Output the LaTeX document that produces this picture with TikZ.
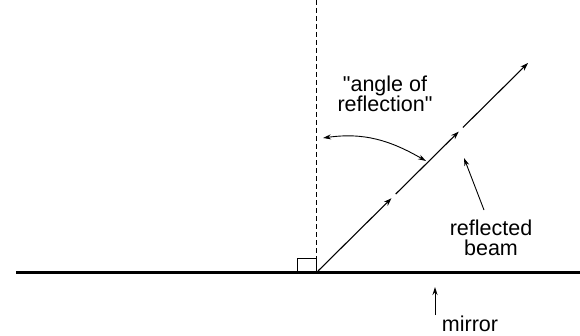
\documentclass[tikz,border=0pt]{standalone}
\usepackage{fontspec}
\setmainfont{Liberation Sans}
\usetikzlibrary{arrows.meta,calc}
\begin{document}
\begin{tikzpicture}[x=1pt,y=1pt,
    beam/.style={line width=1.1pt,-{Stealth[length=8pt,width=5.5pt]}},
    pointer/.style={line width=0.9pt,-{Stealth[length=8pt,width=5pt]}},
    lbl/.style={align=center,inner sep=1pt,font=\fontsize{21.5}{20.5}\selectfont}]
                        \useasboundingbox (0,0) rectangle (580,335);
                        % Mirror and normal
                        \coordinate (ml) at (16,63);
                        \coordinate (mr) at (580,63);
                        \coordinate (ntop) at (316,335);
                        \coordinate (nfoot) at (316,64);
                        \draw[line width=3pt] (ml) -- (mr);
                        \draw[line width=0.9pt, dash pattern=on 5pt off 3pt] (ntop) -- (nfoot);
                        \draw[line width=0.9pt] (nfoot) rectangle (297,77);
                        % Reflected beam
                        \coordinate (r) at (318,64);
                        \coordinate (t) at (528,272);
                        \draw[beam] (r) -- ($(r)!0.35!(t)$);
                        \draw[beam] ($(r)!0.37!(t)$) -- ($(r)!0.67!(t)$);
                        \draw[beam] ($(r)!0.69!(t)$) -- (t);
                        % Angle of reflection
                        \coordinate (aleft) at (323,197);
                        \coordinate (aright) at (426,174);
                        \draw[line width=0.9pt,{Stealth[length=8pt,width=5pt]}-{Stealth[length=8pt,width=5pt]}]
                            (aleft) to[out=8,in=150] (aright);
                        \node[lbl] (angle) at (385,241) {\textquotedbl angle of\\reflection\textquotedbl};
                        % Labels
                        \node[lbl] (refl) at (491,97) {reflected\\beam};
                        \coordinate (rtail) at (484,125);
                        \coordinate (rtip) at (464,177);
                        \draw[pointer] (rtail) -- (rtip);
                        \node[lbl] (mirror) at (470,11) {mirror};
                        \coordinate (mtail) at (435,20);
                        \coordinate (mtip) at (435,48);
                        \draw[pointer] (mtail) -- (mtip);
\end{tikzpicture}
\end{document}
